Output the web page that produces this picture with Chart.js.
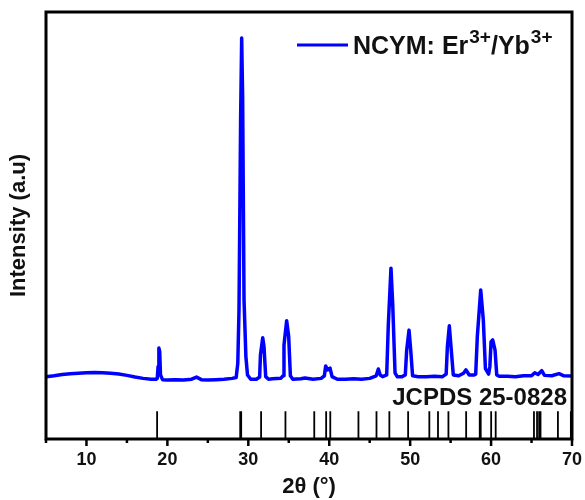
<!DOCTYPE html>
<html lang="en">
<head>
    <meta charset="UTF-8">
    <title>XRD NCYM: Er/Yb</title>
    <script src="https://cdnjs.cloudflare.com/ajax/libs/Chart.js/4.4.0/chart.umd.min.js"></script>
    <style>
        html, body { margin: 0; padding: 0; background: #fff; }
        #wrap { width: 585px; height: 500px; }
    </style>
</head>
<body>
    <div id="wrap"><canvas id="xrdChart"></canvas></div>

    <script>
        // XRD pattern (2theta, intensity in plot units 0-100)
        const xrdAngle = [
            5.0, 6.0, 7.0, 8.0, 9.0, 10.0, 11.0, 12.0, 13.0, 14.0, 15.0, 16.0, 17.0, 18.0, 18.6,
            18.75, 18.85, 18.95, 19.05, 19.15, 19.4, 20.0, 21.0, 22.0, 23.0, 23.6, 24.2, 25.0, 26.0, 27.0, 28.0, 28.5,
            28.7, 28.85, 29.05, 29.18, 29.3, 29.47, 29.7, 29.9, 30.3, 31.0,
            31.4, 31.5, 31.78, 31.94, 32.15, 32.5, 33.0, 34.0,
            34.3, 34.41, 34.74, 34.99, 35.2, 35.5, 36.5, 37.0, 38.0, 39.0,
            39.4, 39.56, 39.8, 40.1, 40.35, 41.0, 42.0, 43.0, 44.0, 45.0,
            45.8, 46.07, 46.3, 46.6, 47.1, 47.3, 47.63, 47.84, 48.13, 48.4, 49.0,
            49.4, 49.57, 49.86, 50.07, 50.3, 51.0, 52.0, 53.0, 54.0,
            54.45, 54.6, 54.84, 55.05, 55.33, 56.0, 56.6, 56.9, 57.3, 57.9,
            58.1, 58.3, 58.72, 59.04, 59.3, 59.7, 59.85, 60.0, 60.2, 60.49, 60.7,
            61.0, 62.0, 63.0, 64.0, 65.0, 65.4, 65.8, 66.26, 66.6, 67.5, 68.4, 69.0, 70.0
        ];
        const xrdIntensity = [
            14.6, 14.8, 15.1, 15.3, 15.4, 15.5, 15.6, 15.5, 15.4, 15.2, 14.9, 14.5, 14.2, 14.0, 14.0,
            14.2, 17.0, 21.3, 20.5, 15.0, 13.9, 13.8, 13.9, 13.8, 14.0, 14.5, 13.9, 13.8, 13.9, 14.0, 14.2, 14.4,
            17.7, 30.2, 75.0, 93.9, 80.0, 32.6, 19.3, 15.0, 14.0, 14.0,
            14.5, 19.7, 23.7, 21.6, 14.6, 14.0, 14.1, 14.2,
            14.8, 22.0, 27.7, 24.0, 14.8, 14.0, 14.1, 14.3, 14.0, 14.2,
            14.8, 17.1, 16.2, 16.6, 14.6, 14.0, 14.0, 14.1, 14.0, 14.2,
            14.8, 16.4, 15.0, 14.6, 15.0, 26.7, 40.0, 31.8, 15.5, 14.6, 14.6,
            15.0, 20.8, 25.5, 20.8, 14.8, 14.6, 14.6, 14.7, 14.6,
            15.2, 21.6, 26.5, 21.6, 15.0, 14.8, 15.4, 16.2, 15.0, 15.0,
            15.2, 24.0, 34.9, 27.9, 16.5, 15.2, 17.0, 22.8, 23.2, 20.8, 15.0,
            14.7, 14.7, 14.6, 14.8, 14.8, 15.5, 15.1, 16.0, 14.9, 14.8, 15.3, 14.8, 14.75
        ];

        // JCPDS 25-0828 reference lines
        const jcpdsAngle = [
            18.73, 29.0, 29.12, 31.58, 34.59, 38.15, 39.62, 40.13, 43.61, 45.84, 47.43, 49.75,
            52.37, 53.44, 54.73, 56.92, 58.6, 58.72, 60.01, 60.57, 65.3, 65.68, 65.94, 66.11, 68.26, 69.86
        ];
        const jcpdsHeight = 6.5;

        const majorTicks = [10, 20, 30, 40, 50, 60, 70];
        const minorTicks = [5, 15, 25, 35, 45, 55, 65];

        const xrdPoints = xrdAngle.map((a, i) => ({ x: a, y: xrdIntensity[i] }));
        const stickPoints = [];
        jcpdsAngle.forEach(a => {
            stickPoints.push({ x: a, y: 0 });
            stickPoints.push({ x: a, y: jcpdsHeight });
            stickPoints.push({ x: a, y: null });
        });

        const FONT = '"Liberation Sans", Arial, sans-serif';

        // frame, ticks, labels, legend and card text
        const decorPlugin = {
            id: 'decor',
            afterDraw(chart) {
                const ctx = chart.ctx;
                const area = chart.chartArea;
                const xs = chart.scales.x;
                ctx.save();

                ctx.strokeStyle = '#000';
                ctx.lineWidth = 3;
                ctx.strokeRect(area.left, area.top, area.right - area.left, area.bottom - area.top);

                ctx.lineWidth = 2.5;
                majorTicks.forEach(v => {
                    const px = xs.getPixelForValue(v);
                    ctx.beginPath();
                    ctx.moveTo(px, area.bottom);
                    ctx.lineTo(px, area.bottom + 7);
                    ctx.stroke();
                });
                minorTicks.forEach(v => {
                    const px = xs.getPixelForValue(v);
                    ctx.beginPath();
                    ctx.moveTo(px, area.bottom);
                    ctx.lineTo(px, area.bottom + 4);
                    ctx.stroke();
                });

                ctx.fillStyle = '#111';
                ctx.font = 'bold 18px ' + FONT;
                ctx.textAlign = 'center';
                ctx.textBaseline = 'middle';
                majorTicks.forEach(v => {
                    ctx.fillText(String(v), xs.getPixelForValue(v), 460);
                });

                ctx.font = 'bold 22px ' + FONT;
                ctx.fillText('2\u03b8 (\u00b0)', (area.left + area.right) / 2, 487);

                ctx.save();
                ctx.translate(19, (area.top + area.bottom) / 2);
                ctx.rotate(-Math.PI / 2);
                ctx.font = 'bold 22px ' + FONT;
                ctx.fillText('Intensity (a.u)', 0, 0);
                ctx.restore();

                ctx.font = 'bold 24px ' + FONT;
                ctx.textAlign = 'right';
                ctx.fillText('JCPDS 25-0828', area.right - 5, 398);

                // legend
                ctx.strokeStyle = '#0000ff';
                ctx.lineWidth = 3;
                ctx.beginPath();
                ctx.moveTo(297, 45);
                ctx.lineTo(348, 45);
                ctx.stroke();

                ctx.textAlign = 'left';
                ctx.textBaseline = 'alphabetic';
                let x = 353;
                const parts = [['NCYM: Er', false], ['3+', true], ['/Yb', false], ['3+', true]];
                parts.forEach(([t, sup]) => {
                    ctx.font = (sup ? 'bold 19px ' : 'bold 25px ') + FONT;
                    ctx.fillText(t, x, sup ? 43 : 54);
                    x += ctx.measureText(t).width + (sup ? 0 : 1);
                });

                ctx.restore();
            }
        };

        new Chart(document.getElementById('xrdChart'), {
            type: 'line',
            data: {
                datasets: [
                    {
                        label: 'NCYM: Er3+/Yb3+',
                        data: xrdPoints,
                        borderColor: '#0000ff',
                        borderWidth: 3.5,
                        pointRadius: 0,
                        tension: 0,
                        borderJoinStyle: 'round'
                    },
                    {
                        label: 'JCPDS 25-0828',
                        data: stickPoints,
                        borderColor: '#000',
                        borderWidth: 1.8,
                        pointRadius: 0,
                        spanGaps: false
                    }
                ]
            },
            options: {
                responsive: true,
                maintainAspectRatio: false,
                animation: false,
                events: [],
                layout: { padding: { left: 46, right: 13, top: 12, bottom: 61 } },
                plugins: { legend: { display: false }, tooltip: { enabled: false } },
                scales: {
                    x: { type: 'linear', min: 5, max: 70, display: false },
                    y: { min: 0, max: 100, display: false }
                }
            },
            plugins: [decorPlugin]
        });
    </script>
</body>
</html>
